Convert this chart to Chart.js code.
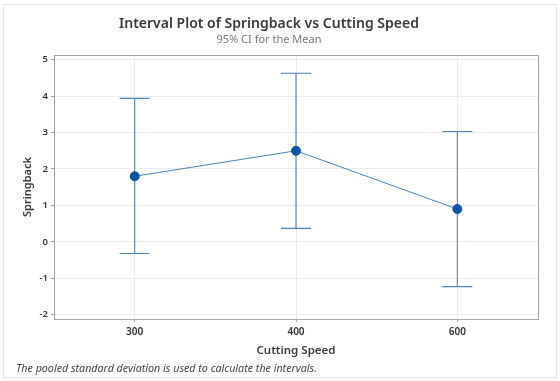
<!DOCTYPE html>
<html>
<head>
<meta charset="utf-8">
<script src="https://cdn.jsdelivr.net/npm/chart.js@4/dist/chart.umd.min.js"></script>
<style>
  html, body { margin: 0; padding: 0; background: #ffffff; }
  #wrap { position: relative; width: 560px; height: 381px; }
  #frame { position: absolute; left: 3px; top: 4px; width: 554px; height: 374px;
           border: 1px solid #e4e4e4; box-sizing: border-box; pointer-events: none; }
  canvas { position: absolute; left: 0; top: 0; }
</style>
</head>
<body>
<div id="wrap">
  <canvas id="c" width="560" height="381"></canvas>
  <div id="frame"></div>
</div>
<script>
// Cutting speed groups and the 95% confidence interval of the mean springback
const speeds = ['300', '400', '600'];
const meanSpringback = [1.80, 2.50, 0.90];
const ciLower = [-0.32, 0.37, -1.23];
const ciUpper = [3.94, 4.63, 3.03];
const yTicks = [-2, -1, 0, 1, 2, 3, 4, 5];

const FONT = "'Noto Sans', 'Open Sans', sans-serif";
const WHISKER = '#4f83b3';

// Vertical interval lines with end caps, positioned through the chart scales
const intervalBars = {
  id: 'intervalBars',
  beforeDatasetsDraw(chart) {
    const { ctx, chartArea, scales: { x, y } } = chart;
    ctx.save();
    ctx.beginPath();
    ctx.rect(chartArea.left, chartArea.top, chartArea.right - chartArea.left, chartArea.bottom - chartArea.top);
    ctx.clip();
    ctx.strokeStyle = WHISKER;
    ctx.lineWidth = 1.1;
    const cap = 15;
    speeds.forEach((s, i) => {
      const px = x.getPixelForValue(i);
      const yt = y.getPixelForValue(ciUpper[i]);
      const yb = y.getPixelForValue(ciLower[i]);
      ctx.beginPath();
      ctx.moveTo(px, yt); ctx.lineTo(px, yb);
      ctx.moveTo(px - cap, yt); ctx.lineTo(px + cap, yt);
      ctx.moveTo(px - cap, yb); ctx.lineTo(px + cap, yb);
      ctx.stroke();
    });
    ctx.restore();
  }
};

// Plot-area border and footnote
const extras = {
  id: 'extras',
  afterDraw(chart) {
    const { ctx, chartArea } = chart;
    ctx.save();
    ctx.strokeStyle = '#a3a3a3';
    ctx.lineWidth = 1;
    ctx.strokeRect(Math.round(chartArea.left) + 0.5, Math.round(chartArea.top) + 0.5,
                   Math.round(chartArea.right - chartArea.left), Math.round(chartArea.bottom - chartArea.top));
    ctx.font = "italic 10.7px " + FONT;
    ctx.fillStyle = '#444444';
    ctx.textBaseline = 'middle';
    ctx.textAlign = 'left';
    ctx.fillText('The pooled standard deviation is used to calculate the intervals.', 16, 369);
    ctx.restore();
  }
};

new Chart(document.getElementById('c'), {
  type: 'line',
  data: {
    labels: speeds,
    datasets: [{
      data: meanSpringback,
      borderColor: '#4a82b8',
      borderWidth: 1,
      pointRadius: 4.5,
      pointBackgroundColor: '#0b54a6',
      pointBorderColor: '#0b54a6',
      pointBorderWidth: 1,
      tension: 0
    }]
  },
  options: {
    responsive: false,
    animation: false,
    events: [],
    layout: { padding: { left: 0, right: 22, top: 0, bottom: 15 } },
    plugins: {
      legend: { display: false },
      tooltip: { enabled: false },
      title: {
        display: true,
        text: 'Interval Plot of Springback vs Cutting Speed',
        color: '#3a3a3a',
        font: { family: FONT, size: 14, weight: '600' },
        padding: { top: 15.6, bottom: 1 }
      },
      subtitle: {
        display: true,
        text: '95% CI for the Mean',
        color: '#7a7a7a',
        font: { family: FONT, size: 11, weight: 'normal' },
        padding: { top: 0, bottom: 8.4 }
      }
    },
    scales: {
      x: {
        offset: true,
        grid: { color: '#ebebeb', tickLength: 3, tickColor: '#a3a3a3', offset: false },
        border: { display: false },
        ticks: { color: '#333333', font: { family: FONT, size: 10, weight: '600' }, padding: 4 },
        title: {
          display: true,
          text: 'Cutting Speed',
          color: '#3a3a3a',
          font: { family: FONT, size: 11.5, weight: '600' },
          padding: { top: 0, bottom: 8 }
        },
        afterFit(scale) { scale.height = 47; }
      },
      y: {
        min: -2.12,
        max: 5.13,
        afterBuildTicks(scale) { scale.ticks = yTicks.map(v => ({ value: v })); },
        grid: { color: '#ebebeb', tickLength: 3, tickColor: '#a3a3a3' },
        border: { display: false },
        ticks: { color: '#333333', font: { family: FONT, size: 9.5, weight: '600' }, padding: 3 },
        title: {
          display: true,
          text: 'Springback',
          color: '#3a3a3a',
          font: { family: FONT, size: 11, weight: '600' },
          padding: { top: 21.4, bottom: 0 }
        },
        afterFit(scale) { scale.width = 54; }
      }
    }
  },
  plugins: [intervalBars, extras]
});
</script>
</body>
</html>
